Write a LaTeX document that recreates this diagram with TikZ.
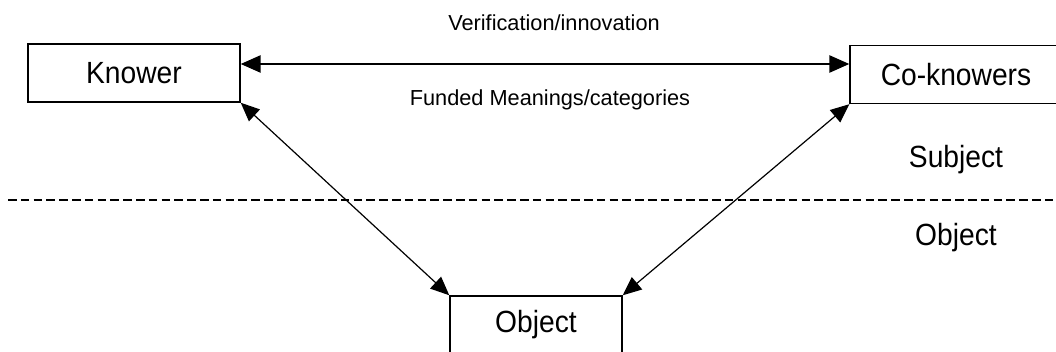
\documentclass[tikz,border=0pt]{standalone}
\usepackage{fontspec}
\setmainfont{Liberation Sans}
\newfontfamily\narrowfont[FakeStretch=0.92]{Liberation Sans}
\usetikzlibrary{arrows.meta,calc}
\begin{document}
\begin{tikzpicture}[x=0.75pt,y=-0.75pt,
  box/.style={draw,line width=1.1pt,inner sep=0pt,minimum height=43.5pt,
    font=\narrowfont\fontsize{23}{27}\selectfont},
  bigbox/.style={box,minimum width=159pt},
  smallbox/.style={box,minimum width=129pt},
  lbl/.style={font=\fontsize{16.3}{19}\selectfont,inner sep=0pt},
  sidelbl/.style={font=\narrowfont\fontsize{23}{27}\selectfont,inner sep=0pt},
  tip/.style={Triangle[length=15pt,width=13pt]},
  harr/.style={{Triangle[length=15pt,width=13pt]}-{Triangle[length=15pt,width=13pt]},line width=1.25pt},
  darr/.style={{Triangle[length=14pt,width=12pt]}-{Triangle[length=14pt,width=12pt]},line width=0.9pt},
  divider/.style={line width=1.1pt,dash pattern=on 6.4pt off 3.2pt}]
\useasboundingbox (0,0) rectangle (1056,352);
\node[bigbox] (Knower) at (134,73) {Knower};
\node[bigbox] (Coknowers) at (956,74.5) {Co-knowers};
\node[smallbox] (Object) at (536,325) {Object};
\node[lbl] (verif) at (554,23) {Verification/innovation};
\node[lbl] (funded) at (550,100) {Funded Meanings/categories};
\node[sidelbl] (subj) at (956,160) {Subject};
\node[sidelbl] (objl) at (956,238) {Object};
\coordinate (dl) at (8,200);
\coordinate (dr) at (1056,200);
\draw[divider] (dl) -- (dr);
\draw[harr] ([yshift=6.75pt]Knower.east) -- ([yshift=6.75pt]Knower.east -| Coknowers.west);
\draw[darr] (Knower.south east) -- (Object.north west);
\draw[darr] (Coknowers.south west) -- (Object.north east);
\end{tikzpicture}
\end{document}
